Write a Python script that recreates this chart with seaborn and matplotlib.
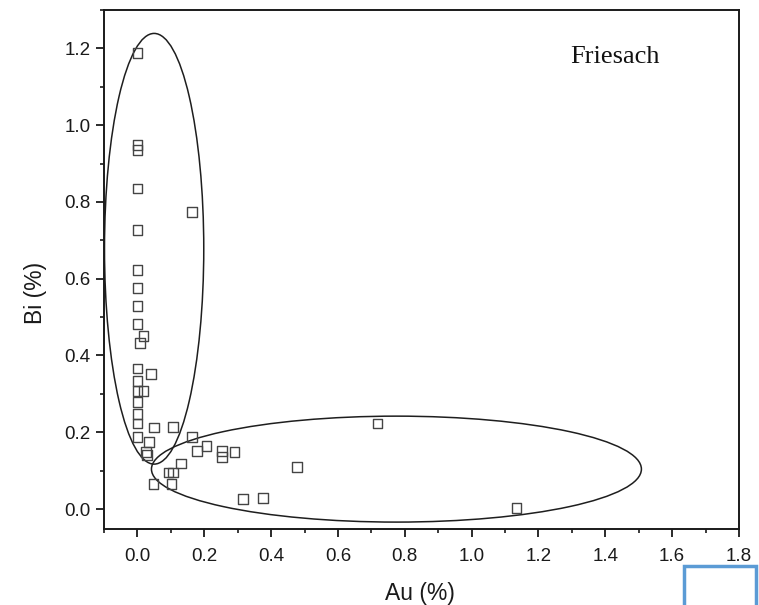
import numpy as np
import pandas as pd
import matplotlib
matplotlib.use("Agg")
import matplotlib.pyplot as plt
from matplotlib.patches import Ellipse, Rectangle
from matplotlib.ticker import MultipleLocator
import seaborn as sns

# Friesach artefacts: gold and bismuth contents (%)
au = [0.000, 0.000, 0.000, 0.000, 0.000, 0.000, 0.000, 0.000, 0.000,
      0.018, 0.008, 0.000, 0.040, 0.000, 0.018, 0.000, 0.000, 0.000,
      0.000, 0.050, 0.107, 0.000, 0.034, 0.025, 0.028,
      0.164, 0.179, 0.207, 0.254, 0.254, 0.291, 0.131, 0.093, 0.107,
      0.048, 0.102, 0.478, 0.315, 0.375, 0.718, 1.134, 0.164]
bi = [1.188, 0.948, 0.935, 0.835, 0.727, 0.622, 0.575, 0.529, 0.482,
      0.451, 0.432, 0.366, 0.351, 0.334, 0.307, 0.307, 0.279, 0.247,
      0.223, 0.212, 0.214, 0.188, 0.175, 0.149, 0.140,
      0.188, 0.151, 0.164, 0.151, 0.136, 0.149, 0.119, 0.095, 0.095,
      0.065, 0.065, 0.109, 0.026, 0.028, 0.223, 0.003, 0.774]

# Grouping ellipses: (centre Au, centre Bi, full width, full height)
groups = [(0.050, 0.678, 0.297, 1.122),
          (0.775, 0.104, 1.466, 0.276)]

xticks = [0.0, 0.2, 0.4, 0.6, 0.8, 1.0, 1.2, 1.4, 1.6, 1.8]
yticks = [0.0, 0.2, 0.4, 0.6, 0.8, 1.0, 1.2]

df = pd.DataFrame({"Au": au, "Bi": bi})

sns.set_style("ticks")
plt.rcParams["font.family"] = ["Liberation Sans", "DejaVu Sans"]

fig = plt.figure(figsize=(7.59, 6.05), dpi=100)
ax = fig.add_axes([104 / 759, 76 / 605, 635 / 759, 519 / 605])

sns.scatterplot(data=df, x="Au", y="Bi", ax=ax, marker="s", s=48,
                facecolor="none", edgecolor="#444444", linewidth=1.0,
                zorder=3)

for cx, cy, w, h in groups:
    ax.add_patch(Ellipse((cx, cy), w, h, fill=False, edgecolor="#1e1e1e",
                         linewidth=1.1, zorder=2))

ax.set_xlim(-0.1, 1.8)
ax.set_ylim(-0.052, 1.3)
ax.set_xticks(xticks)
ax.set_yticks(yticks)
ax.set_xticklabels([f"{v:.1f}" for v in xticks])
ax.set_yticklabels([f"{v:.1f}" for v in yticks])
ax.xaxis.set_minor_locator(MultipleLocator(0.1))
ax.yaxis.set_minor_locator(MultipleLocator(0.1))

for side in ["left", "bottom", "right", "top"]:
    ax.spines[side].set_visible(True)
    ax.spines[side].set_linewidth(1.4)
    ax.spines[side].set_color("#1a1a1a")

ax.tick_params(which="major", length=5.5, width=1.3, color="#1a1a1a",
               labelsize=13.5, labelcolor="#1a1a1a", direction="out")
ax.tick_params(which="minor", length=3, width=1.2, color="#1a1a1a",
               direction="out")
ax.tick_params(axis="x", pad=8)
ax.tick_params(axis="y", pad=4)

ax.set_xlabel("Au (%)", fontsize=16.5, color="#1a1a1a")
ax.set_ylabel("Bi (%)", fontsize=16.5, color="#1a1a1a")
ax.xaxis.set_label_coords(0.497, -0.103)
ax.yaxis.set_label_coords(-0.09, 0.455)

ax.text(0.805, 0.909, "Friesach", transform=ax.transAxes,
        fontsize=19, family="Liberation Serif", ha="center", va="center",
        color="#111111")

# framed box in the lower right corner
fig.patches.append(Rectangle((684 / 759, -0.02), 72 / 759, 0.0845,
                             transform=fig.transFigure, fill=False,
                             edgecolor="#5b9bd5", linewidth=2.5))

fig.savefig("out.png", dpi=100)
